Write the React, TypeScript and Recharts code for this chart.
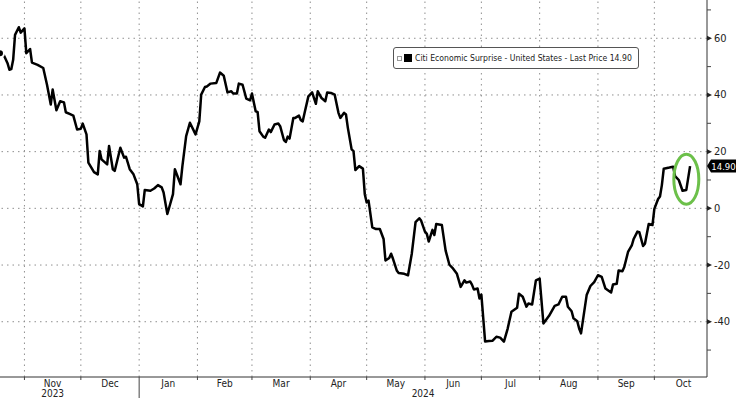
import React from 'react';
import {
  LineChart,
  Line,
  XAxis,
  YAxis,
  ReferenceLine,
  ReferenceDot
} from 'recharts';

// day offsets counted from 2023-10-19
const days = [
  0, 2, 4, 5, 6, 7, 8, 10, 11, 13,
  14, 16, 17, 20, 23, 25, 27, 28, 30, 32,
  34, 35, 37, 39, 41, 43, 44, 46, 47, 50,
  52, 53, 54, 57, 58, 60, 61, 64, 66, 67,
  69, 71, 73, 74, 76, 77, 80, 82, 84, 86,
  87, 89, 92, 93, 96, 97, 99, 101, 104, 106,
  107, 109, 110, 112, 115, 117, 119, 121, 123, 124,
  126, 127, 129, 131, 133, 134, 136, 137, 138, 140,
  141, 143, 144, 146, 148, 149, 151, 152, 153, 154,
  156, 157, 159, 160, 161, 162, 164, 166, 167, 168,
  169, 171, 173, 174, 176, 178, 180, 181, 183, 184,
  185, 187, 188, 189, 191, 193, 194, 195, 196, 198,
  200, 202, 204, 205, 207, 208, 209, 211, 212, 215,
  217, 219, 221, 223, 224, 226, 227, 228, 230, 231,
  232, 235, 237, 239, 241, 243, 245, 247, 248, 250,
  251, 252, 254, 255, 256, 258, 260, 262, 264, 266,
  268, 270, 272, 275, 276, 278, 280, 281, 283, 285,
  287, 289, 292, 295, 297, 299, 301, 302, 304, 305,
  307, 308, 309, 312, 314, 316, 318, 320, 322, 325,
  326, 328, 329, 331, 332, 334, 336, 337, 339, 340,
  342, 343, 345, 347, 348, 350, 351, 352, 353, 356,
  358, 359, 361, 363, 365, 367
];

const surprise = [
  54.7, 54.1, 51.2, 48.9, 49.1, 52.4, 61.2, 63.9, 62.0, 63.5,
  54.7, 56.2, 51.4, 50.6, 49.5, 43.6, 36.6, 41.9, 34.6, 37.8,
  37.4, 33.9, 33.3, 32.7, 27.8, 28.1, 29.9, 26.1, 16.1, 12.8,
  12.0, 20.2, 17.3, 15.5, 22.0, 13.8, 13.2, 21.4, 17.9, 18.2,
  13.8, 12.0, 8.5, 1.5, 0.7, 6.5, 6.2, 7.0, 8.2, 7.4,
  5.6, -2.0, 5.0, 13.8, 8.5, 14.9, 25.5, 30.2, 26.1, 30.7,
  40.1, 42.8, 43.0, 44.0, 44.2, 47.9, 46.8, 40.9, 41.3, 40.5,
  40.5, 44.0, 43.6, 38.7, 38.1, 40.5, 34.2, 34.0, 27.2, 25.3,
  24.9, 27.8, 26.9, 29.6, 29.9, 29.0, 24.1, 23.4, 25.3, 24.6,
  31.9, 31.9, 32.7, 31.1, 30.7, 33.7, 39.5, 40.9, 38.9, 36.9,
  41.3, 38.9, 37.8, 40.9, 40.7, 40.1, 33.7, 31.9, 33.7, 33.1,
  28.4, 20.8, 20.2, 13.5, 14.9, 14.0, 5.0, 2.1, 2.7, -6.7,
  -7.3, -7.3, -10.8, -18.4, -17.5, -16.0, -17.8, -21.9, -22.8, -23.1,
  -23.6, -16.0, -4.9, -3.5, -4.4, -8.2, -9.0, -11.7, -7.6, -9.4,
  -5.5, -5.9, -14.9, -19.9, -21.3, -23.1, -27.7, -25.4, -26.2, -25.8,
  -26.9, -28.6, -28.3, -31.8, -30.4, -47.0, -46.8, -46.7, -45.3, -45.6,
  -47.0, -42.4, -36.5, -35.1, -30.1, -31.2, -34.7, -33.6, -33.9, -25.4,
  -24.8, -40.6, -37.9, -34.4, -33.9, -31.2, -31.2, -34.7, -36.3, -38.8,
  -39.8, -42.4, -44.1, -30.6, -27.4, -26.0, -23.6, -24.2, -28.3, -29.7,
  -26.9, -26.6, -21.9, -22.2, -20.7, -15.4, -13.1, -10.8, -8.2, -8.4,
  -13.3, -12.5, -5.5, -5.9, -0.2, 3.3, 4.2, 8.2, 14.0, 14.4,
  14.7, 11.4, 10.0, 6.2, 6.5, 14.9
];

// month boundaries (day offsets), last one closes October
const monthStarts = [13, 43, 74, 105, 134, 165, 195, 226, 256, 287, 318, 348, 379];
const monthNames = ['Nov', 'Dec', 'Jan', 'Feb', 'Mar', 'Apr', 'May', 'Jun', 'Jul', 'Aug', 'Sep', 'Oct'];
const years = ['2023', '2024'];
const yearCenters = [28, 225];
const yearBreak = 74;

const majorTicks = [-40, -20, 0, 20, 40, 60];
const yTicks = [-50, -40, -30, -20, -10, 0, 10, 20, 30, 40, 50, 60, 70];
const lastPrice = 14.9;
const legendLabel = 'Citi Economic Surprise - United States - Last Price 14.90';

const data = days.map((d, i) => ({ day: d, value: surprise[i] }));
const monthMids = monthNames.map((_, i) => (monthStarts[i] + monthStarts[i + 1]) / 2);
const gridDays = monthStarts.slice(0, 12);
const xTicks = Array.from(new Set([...gridDays, ...monthMids, ...yearCenters])).sort((a, b) => a - b);

const FONT = "'Liberation Sans Narrow', 'DejaVu Sans Condensed', 'Liberation Sans', sans-serif";

const XTick = ({ x, y, payload }: any) => {
  const v = payload.value;
  const m = monthMids.indexOf(v);
  const yr = yearCenters.indexOf(v);
  const isStart = gridDays.includes(v);
  return (
    <g>
      {isStart && <line x1={x} y1={y} x2={x} y2={y + (v === yearBreak ? 21 : 3)} stroke="#444" />}
      {m >= 0 && (
        <text x={x} y={y + 6.5} textAnchor="middle" dominantBaseline="central" fontSize={10} fill="#222" fontFamily={FONT}>
          {monthNames[m]}
        </text>
      )}
      {yr >= 0 && (
        <text x={x} y={y + 16.5} textAnchor="middle" dominantBaseline="central" fontSize={10} fill="#222" fontFamily={FONT}>
          {years[yr]}
        </text>
      )}
    </g>
  );
};

const YTick = ({ x, y, payload }: any) => {
  const v = payload.value;
  if (!majorTicks.includes(v)) {
    return <line x1={x} y1={y} x2={x + 4} y2={y} stroke="#444" />;
  }
  return (
    <g>
      <path d={`M${x},${y - 2.5}L${x + 5},${y}L${x},${y + 2.5}Z`} fill="#222" />
      <text x={x + 7} y={y} dominantBaseline="central" fontSize={11} fill="#222" fontFamily={FONT}>
        {v}
      </text>
    </g>
  );
};

const PriceTag = ({ cx, cy }: any) => (
  <g>
    <path d={`M${cx},${cy}L${cx + 4},${cy - 6.5}L${cx + 29},${cy - 6.5}L${cx + 29},${cy + 6.5}L${cx + 4},${cy + 6.5}Z`} fill="#000" />
    <text x={cx + 16.5} y={cy} textAnchor="middle" dominantBaseline="central" fontSize={9.5} fill="#fff" fontFamily={FONT}>
      {lastPrice.toFixed(2)}
    </text>
  </g>
);

const Highlight = ({ cx, cy }: any) => (
  <ellipse cx={cx} cy={cy} rx={12.5} ry={25} fill="none" stroke="#6cc04a" strokeWidth={3} />
);

export default function App() {
  return (
    <div style={{ position: 'absolute', left: 0, top: 0, width: 736, height: 398, background: '#fff' }}>
      <LineChart width={736} height={398} data={data} margin={{ top: 0, right: 0, bottom: 0, left: 0 }}>
        {majorTicks.map((v) => (
          <ReferenceLine key={'h' + v} y={v} stroke="#8f8f8f" strokeDasharray="1.5 4" />
        ))}
        {gridDays.map((d) => (
          <ReferenceLine key={'v' + d} x={d} stroke="#8f8f8f" strokeDasharray="1.5 4" />
        ))}
        <XAxis
          dataKey="day"
          type="number"
          domain={[0, 376]}
          ticks={xTicks}
          interval={0}
          height={21}
          tickSize={0}
          tickMargin={0}
          tickLine={false}
          axisLine={{ stroke: '#333' }}
          tick={<XTick />}
        />
        <YAxis
          orientation="right"
          domain={[-59.5, 73.5]}
          ticks={yTicks}
          interval={0}
          allowDataOverflow
          width={29}
          tickSize={0}
          tickMargin={0}
          tickLine={false}
          axisLine={{ stroke: '#333' }}
          tick={<YTick />}
        />
        <Line
          type="linear"
          dataKey="value"
          stroke="#000"
          strokeWidth={2.5}
          strokeLinejoin="round"
          dot={false}
          isAnimationActive={false}
        />
        <ReferenceDot x={365} y={10.3} r={1} ifOverflow="visible" shape={<Highlight />} />
        <ReferenceDot x={376} y={lastPrice} r={1} ifOverflow="visible" shape={<PriceTag />} />
      </LineChart>
      <div
        style={{
          position: 'absolute',
          left: 393,
          top: 47,
          height: 22,
          boxSizing: 'border-box',
          border: '1px solid #555',
          borderRadius: 3,
          background: '#fff',
          display: 'flex',
          alignItems: 'center',
          padding: '0 6px 0 3px',
          fontFamily: FONT,
          fontSize: 8.6,
          lineHeight: '12px',
          color: '#222',
          whiteSpace: 'nowrap'
        }}
      >
        <span style={{ flexShrink: 0, width: 3, height: 3, border: '1px solid #999', marginRight: 2 }} />
        <span style={{ flexShrink: 0, width: 8, height: 8, background: '#000', marginRight: 3 }} />
        <span style={{ flexShrink: 0 }}>{legendLabel}</span>
      </div>
    </div>
  );
}
